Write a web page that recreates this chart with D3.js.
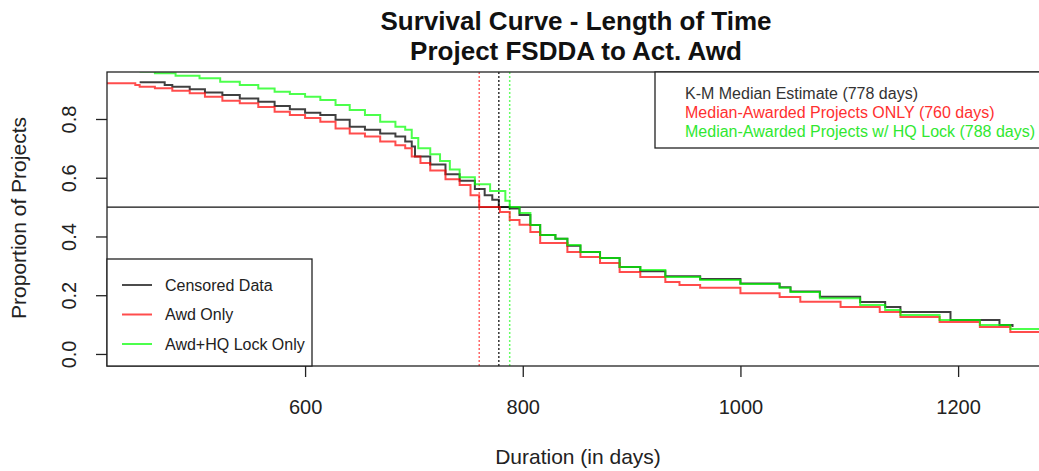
<!DOCTYPE html>
<html>
<head>
<meta charset="utf-8">
<script src="https://cdn.jsdelivr.net/npm/d3@7"></script>
<style>
  html, body { margin: 0; padding: 0; background: #fff; }
  svg { display: block; font-family: "Liberation Sans", Arial, sans-serif; }
</style>
</head>
<body>
<div id="chart"></div>
<script>
// Kaplan-Meier step curves, [days, proportion]
const censoredData = [
    [448, 0.925], [471, 0.916], [478, 0.910], [494, 0.901], [508, 0.890], [524, 0.882],
    [540, 0.870], [557, 0.859], [572, 0.844], [586, 0.833], [600, 0.821], [614, 0.814],
    [628, 0.797], [641, 0.774], [655, 0.763], [669, 0.751], [683, 0.740], [692, 0.723],
    [698, 0.706], [701, 0.672], [715, 0.645], [729, 0.612], [742, 0.590], [756, 0.562],
    [765, 0.540], [772, 0.525], [778, 0.500], [788, 0.495], [797, 0.473], [807, 0.439],
    [816, 0.405], [830, 0.392], [841, 0.368], [853, 0.347], [871, 0.327], [889, 0.296],
    [908, 0.282], [931, 0.265], [963, 0.255], [1000, 0.240], [1036, 0.227], [1046, 0.213],
    [1073, 0.195], [1110, 0.177], [1133, 0.160], [1147, 0.143], [1193, 0.116], [1238, 0.099],
    [1250, 0.092]
];
const awdOnly = [
    [410, 0.922], [444, 0.916], [448, 0.910], [462, 0.905], [478, 0.896], [494, 0.888],
    [508, 0.876], [524, 0.862], [540, 0.854], [557, 0.841], [572, 0.825], [586, 0.814],
    [600, 0.803], [614, 0.791], [628, 0.768], [641, 0.751], [655, 0.740], [669, 0.723],
    [683, 0.711], [692, 0.700], [698, 0.672], [706, 0.650], [715, 0.625], [729, 0.595],
    [742, 0.575], [752, 0.540], [760, 0.500], [779, 0.483], [788, 0.456], [797, 0.440],
    [807, 0.415], [816, 0.378], [841, 0.347], [853, 0.330], [871, 0.310], [889, 0.279],
    [908, 0.262], [931, 0.245], [944, 0.235], [963, 0.225], [1000, 0.207], [1036, 0.194],
    [1055, 0.178], [1092, 0.160], [1128, 0.143], [1147, 0.126], [1183, 0.109], [1220, 0.092],
    [1248, 0.075], [1290, 0.075]
];
const awdHqLock = [
    [448, 0.962], [462, 0.956], [481, 0.947], [503, 0.939], [522, 0.927], [540, 0.916],
    [557, 0.904], [572, 0.893], [586, 0.885], [600, 0.876], [614, 0.865], [628, 0.848],
    [641, 0.831], [655, 0.814], [669, 0.791], [683, 0.774], [692, 0.763], [698, 0.735],
    [704, 0.700], [715, 0.680], [724, 0.657], [733, 0.628], [742, 0.602], [756, 0.578],
    [770, 0.555], [784, 0.522], [788, 0.500], [797, 0.480], [807, 0.439], [816, 0.405],
    [830, 0.392], [841, 0.371], [853, 0.347], [871, 0.327], [889, 0.296], [908, 0.286],
    [931, 0.262], [963, 0.252], [1000, 0.238], [1036, 0.225], [1046, 0.211], [1073, 0.190],
    [1110, 0.167], [1133, 0.150], [1147, 0.133], [1183, 0.116], [1220, 0.099], [1248, 0.085],
    [1290, 0.085]
];

const seriesNames = ["Censored Data", "Awd Only", "Awd+HQ Lock Only"];
const seriesColors = ["#000000", "#ff0000", "#00ff00"];

// median estimates (vertical dotted lines) and their legend text
const medianDays = [778, 760, 788];
const medianLabels = [
    "K-M Median Estimate (778 days)",
    "Median-Awarded Projects ONLY (760 days)",
    "Median-Awarded Projects w/ HQ Lock (788 days)"
];

const xTicks = [600, 800, 1000, 1200];
const yTicks = [0, 0.2, 0.4, 0.6, 0.8];

const width = 1039;
const height = 471;
const plot = { left: 107, top: 72, right: 1043, bottom: 366 };

const svg = d3.select("#chart")
    .append("svg")
    .attr("width", width)
    .attr("height", height);

const x = d3.scaleLinear().domain([418, 1278]).range([plot.left, plot.right]);
const y = d3.scaleLinear().domain([-0.041, 0.96]).range([plot.bottom, plot.top]);

svg.append("defs").append("clipPath")
    .attr("id", "plot-clip")
    .append("rect")
    .attr("x", plot.left)
    .attr("y", plot.top)
    .attr("width", plot.right - plot.left)
    .attr("height", plot.bottom - plot.top);

// Title (two lines)
const title = svg.append("text")
    .attr("text-anchor", "middle")
    .attr("font-weight", "bold")
    .attr("font-size", "26px")
    .attr("fill", "#111");
title.append("tspan").attr("x", 576).attr("y", 30).text("Survival Curve - Length of Time");
title.append("tspan").attr("x", 576).attr("y", 60).text("Project FSDDA to Act. Awd");

const g = svg.append("g").attr("clip-path", "url(#plot-clip)");

// reference line at 0.5
g.append("line")
    .attr("x1", plot.left).attr("x2", plot.right)
    .attr("y1", y(0.5)).attr("y2", y(0.5))
    .attr("stroke", "#111")
    .attr("stroke-width", 1.3);

// median lines
g.selectAll("line.median")
    .data(medianDays)
    .enter()
    .append("line")
    .attr("class", "median")
    .attr("x1", d => x(d)).attr("x2", d => x(d))
    .attr("y1", plot.top).attr("y2", plot.bottom)
    .attr("stroke", (d, i) => seriesColors[i])
    .attr("stroke-opacity", (d, i) => i === 0 ? 0.8 : 0.6)
    .attr("stroke-width", 1.5)
    .attr("stroke-dasharray", "2,2");

// survival curves
const line = d3.line()
    .x(d => x(d[0]))
    .y(d => y(d[1]))
    .curve(d3.curveStepAfter);

[censoredData, awdOnly, awdHqLock].forEach((s, i) => {
    g.append("path")
        .datum(s)
        .attr("d", line)
        .attr("fill", "none")
        .attr("stroke", seriesColors[i])
        .attr("stroke-opacity", i === 0 ? 0.75 : 0.7)
        .attr("stroke-width", 2);
});

// axes
const xAxis = svg.append("g")
    .attr("transform", `translate(0,${plot.bottom})`)
    .call(d3.axisBottom(x).tickValues(xTicks).tickSize(11).tickPadding(8).tickFormat(d3.format("d")));
xAxis.select(".domain").remove();
xAxis.selectAll("line").attr("stroke", "#222").attr("stroke-width", 1.3);
xAxis.selectAll("text")
    .attr("font-size", "20px")
    .attr("font-family", "'Liberation Sans', Arial, sans-serif")
    .attr("fill", "#222")
    .attr("y", 41)
    .attr("dy", "0.35em");

const yAxis = svg.append("g")
    .attr("transform", `translate(${plot.left},0)`)
    .call(d3.axisLeft(y).tickValues(yTicks).tickSize(11).tickFormat(d3.format(".1f")));
yAxis.select(".domain").remove();
yAxis.selectAll("line").attr("stroke", "#222").attr("stroke-width", 1.3);
yAxis.selectAll("text")
    .attr("font-size", "20px")
    .attr("font-family", "'Liberation Sans', Arial, sans-serif")
    .attr("fill", "#222")
    .attr("text-anchor", "middle")
    .attr("x", 0)
    .attr("transform", "translate(-38,0) rotate(-90)")
    .attr("dy", "0.35em");

// frame
svg.append("rect")
    .attr("x", plot.left).attr("y", plot.top)
    .attr("width", plot.right - plot.left)
    .attr("height", plot.bottom - plot.top)
    .attr("fill", "none")
    .attr("stroke", "#222")
    .attr("stroke-width", 1.3);

// axis titles
svg.append("text")
    .attr("x", 578).attr("y", 457)
    .attr("dy", "0.35em")
    .attr("text-anchor", "middle")
    .attr("font-size", "21px")
    .attr("fill", "#222")
    .text("Duration (in days)");

svg.append("text")
    .attr("transform", "translate(19,218) rotate(-90)")
    .attr("dy", "0.35em")
    .attr("text-anchor", "middle")
    .attr("font-size", "21px")
    .attr("fill", "#222")
    .text("Proportion of Projects");

// bottom-left legend
const leg = svg.append("g");
leg.append("rect")
    .attr("x", plot.left).attr("y", 259)
    .attr("width", 205).attr("height", plot.bottom - 259)
    .attr("fill", "#fff")
    .attr("stroke", "#222")
    .attr("stroke-width", 1.3);
const legRows = leg.selectAll("g.row")
    .data(seriesNames)
    .enter()
    .append("g")
    .attr("transform", (d, i) => `translate(0,${285 + i * 29.5})`);
legRows.append("line")
    .attr("x1", 122).attr("x2", 152)
    .attr("stroke", (d, i) => seriesColors[i])
    .attr("stroke-opacity", 0.7)
    .attr("stroke-width", 2);
legRows.append("text")
    .attr("x", 165)
    .attr("dy", "0.35em")
    .attr("font-size", "16px")
    .attr("fill", "#222")
    .text(d => d);

// top-right legend (median estimates)
const med = svg.append("g");
med.append("rect")
    .attr("x", 655).attr("y", plot.top)
    .attr("width", plot.right - 655).attr("height", 148 - plot.top)
    .attr("fill", "#fff")
    .attr("stroke", "#222")
    .attr("stroke-width", 1.3);
med.selectAll("text")
    .data(medianLabels)
    .enter()
    .append("text")
    .attr("x", 685)
    .attr("y", (d, i) => 93 + i * 19)
    .attr("dy", "0.35em")
    .attr("font-size", "16px")
    .attr("fill", (d, i) => i === 0 ? "#333" : (i === 1 ? "#ff3030" : "#30e830"))
    .text(d => d);
</script>
</body>
</html>
